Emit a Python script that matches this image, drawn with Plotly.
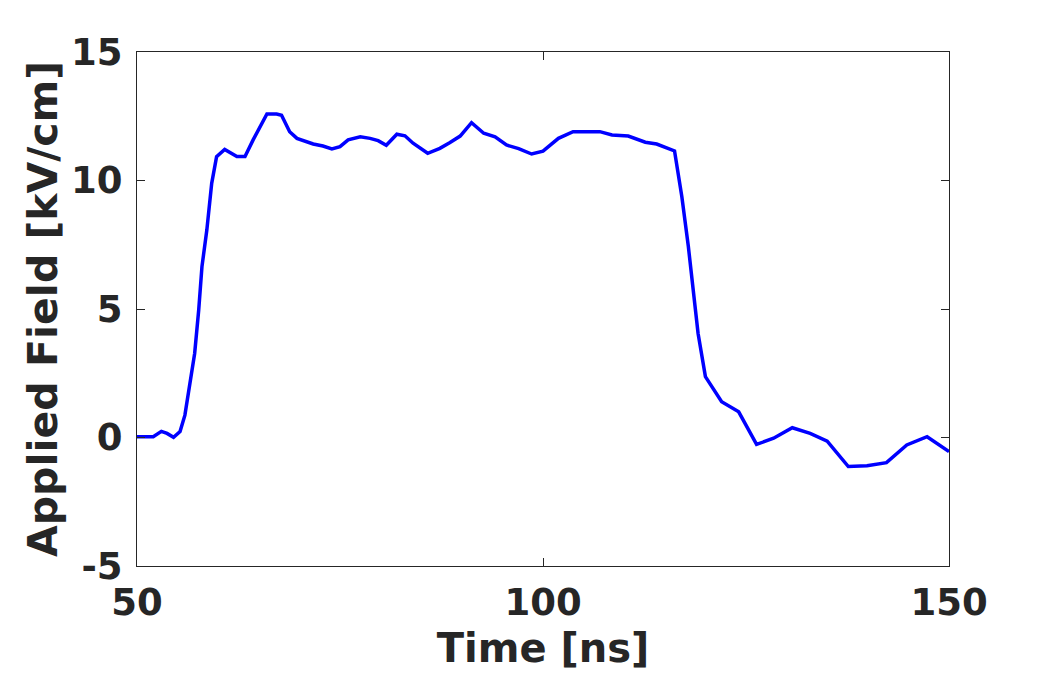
import plotly.graph_objects as go

time_ns = [50.0, 52.0, 53.0, 53.7, 54.5, 55.3, 55.9, 56.5, 57.1, 57.6, 58.0, 58.6, 59.2, 59.8,
           60.8, 62.3, 63.3, 64.3, 66.0, 67.2, 67.8, 68.8, 69.7, 71.7, 72.9, 74.0, 75.0, 76.0,
           77.5, 78.7, 79.7, 80.7, 82.0, 83.0, 84.0, 85.8, 87.3, 88.5, 89.8, 91.2, 92.7, 94.1,
           95.5, 97.0, 98.6, 100.0, 101.9, 103.7, 107.0, 108.5, 110.5, 112.6, 114.0, 116.2,
           117.1, 117.9, 118.5, 119.1, 120.0, 122.0, 124.1, 126.3, 128.4, 130.7, 132.9, 135.0,
           137.6, 139.9, 142.3, 144.8, 147.3, 150.0]
field_kv_cm = [0.03, 0.03, 0.24, 0.16, 0.01, 0.23, 0.87, 1.98, 3.27, 4.96, 6.65, 8.07, 9.89, 10.93,
               11.21, 10.93, 10.93, 11.58, 12.59, 12.59, 12.54, 11.90, 11.64, 11.42, 11.34, 11.23, 11.32, 11.58,
               11.70, 11.64, 11.55, 11.37, 11.80, 11.74, 11.45, 11.06, 11.25, 11.47, 11.73, 12.25, 11.84, 11.70,
               11.38, 11.24, 11.03, 11.14, 11.64, 11.90, 11.90, 11.77, 11.73, 11.49, 11.42, 11.15,
               9.37, 7.43, 5.74, 4.05, 2.37, 1.39, 1.00, -0.27, -0.03, 0.38, 0.16, -0.14,
               -1.13, -1.10, -0.98, -0.29, 0.03, -0.55]

x_ticks = [50, 100, 150]
y_ticks = [-5, 0, 5, 10, 15]

ink = "#262626"
font_family = "DejaVu Sans"

fig = go.Figure()
fig.add_trace(go.Scatter(x=time_ns, y=field_kv_cm, mode="lines",
                         line=dict(color="#0000ff", width=3.5), showlegend=False))

axis_common = dict(
    showline=True, linecolor=ink, linewidth=1, mirror="ticks",
    ticks="inside", ticklen=8, tickwidth=1, tickcolor=ink,
    showgrid=False, zeroline=False, automargin=False,
    tickfont=dict(family=font_family, size=37, color=ink, weight="bold"),
)

# The page adds an 8px body margin, so the figure is drawn 8px smaller.
fig.update_layout(
    width=1042, height=667,
    margin=dict(l=129, r=101, t=44, b=109),
    paper_bgcolor="white", plot_bgcolor="white",
    font=dict(family=font_family, color=ink),
    xaxis=dict(range=[50, 150], tickvals=x_ticks, ticktext=[str(v) for v in x_ticks],
               title=dict(text="<b>Time [ns]</b>", font=dict(family=font_family, size=40, color=ink), standoff=10),
               ticklabelstandoff=4,
               **axis_common),
    yaxis=dict(range=[-5, 15], tickvals=y_ticks, ticktext=[str(v) for v in y_ticks],
               title=dict(text="<b>Applied Field [kV/cm]</b>", font=dict(family=font_family, size=41, color=ink), standoff=0),
               ticklabelstandoff=6,
               **axis_common),
)

fig.write_html("out.html")
